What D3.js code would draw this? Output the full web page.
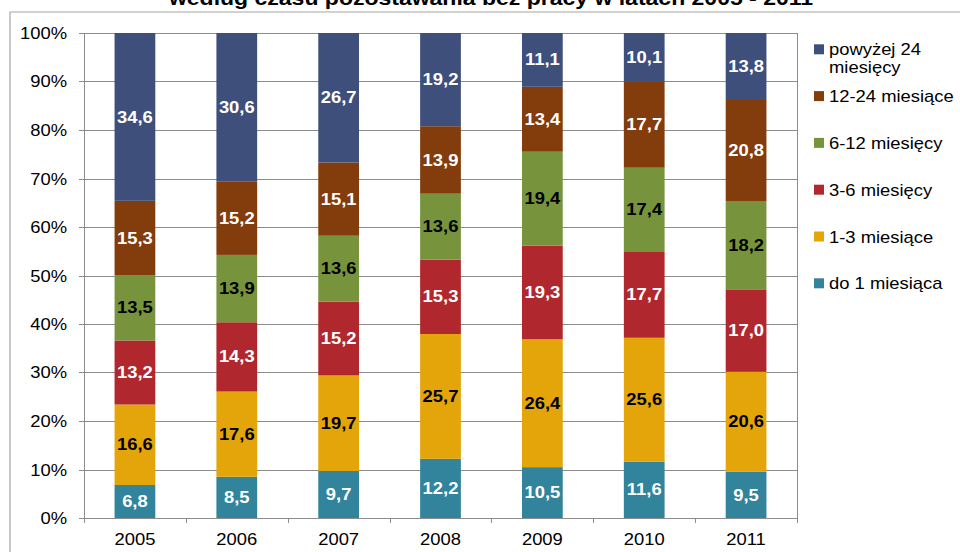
<!DOCTYPE html>
<html>
<head>
<meta charset="utf-8">
<script src="https://cdn.jsdelivr.net/npm/d3@7"></script>
<style>
  html, body { margin: 0; padding: 0; background: #fff; }
  svg { display: block; font-family: "Liberation Sans", Arial, sans-serif; }
</style>
</head>
<body>
<script>
// ---- Data ----
const title = "według czasu pozostawania bez pracy w latach 2005 - 2011";
const years = ["2005", "2006", "2007", "2008", "2009", "2010", "2011"];
const seriesNames = ["do 1 miesiąca", "1-3 miesiące", "3-6 miesięcy", "6-12 miesięcy", "12-24 miesiące", "powyżej 24 miesięcy"];
const do1 =      [6.8, 8.5, 9.7, 12.2, 10.5, 11.6, 9.5];
const m1to3 =    [16.6, 17.6, 19.7, 25.7, 26.4, 25.6, 20.6];
const m3to6 =    [13.2, 14.3, 15.2, 15.3, 19.3, 17.7, 17.0];
const m6to12 =   [13.5, 13.9, 13.6, 13.6, 19.4, 17.4, 18.2];
const m12to24 =  [15.3, 15.2, 15.1, 13.9, 13.4, 17.7, 20.8];
const over24 =   [34.6, 30.6, 26.7, 19.2, 11.1, 10.1, 13.8];
const yTicks = [0, 0.1, 0.2, 0.3, 0.4, 0.5, 0.6, 0.7, 0.8, 0.9, 1.0];

const seriesValues = [do1, m1to3, m3to6, m6to12, m12to24, over24];
const colors = ["#31849b", "#e3a50a", "#b0282d", "#77933c", "#833c0b", "#3e4f7c"];
const labelColors = ["#fff", "#000", "#fff", "#000", "#fff", "#fff"];

const rows = years.map((yr, i) => {
  const r = { year: yr };
  seriesNames.forEach((s, k) => r[s] = seriesValues[k][i]);
  return r;
});

// ---- Layout ----
const W = 960, H = 552;
const SX = 1.15; // horizontal text stretch as in reference
const plot = { left: 84, right: 797, top: 33, bottom: 518 };

const svg = d3.select("body").append("svg").attr("width", W).attr("height", H);

function stretchedText(g, x, y, str) {
  return g.append("text")
    .attr("transform", `translate(${x},${y}) scale(${SX},1)`)
    .text(str);
}

// outer frame
svg.append("path")
  .attr("d", `M10,${H + 5} L10,12 L${W + 5},12`)
  .attr("fill", "none").attr("stroke", "#a6a6a6").attr("stroke-width", 1.2);

// title (cut off at top)
stretchedText(svg, 491, 5, title)
  .attr("text-anchor", "middle")
  .attr("font-size", 20).attr("font-weight", "bold").attr("fill", "#000");

const x = d3.scaleBand().domain(years).range([plot.left, plot.right])
  .paddingInner(0.6).paddingOuter(0.3);
const xCat = d3.scaleBand().domain(years).range([plot.left, plot.right]).padding(0);
const y = d3.scaleLinear().domain([0, 1]).range([plot.bottom, plot.top]);

// gridlines
svg.append("g").selectAll("line").data(yTicks.filter(t => t > 0)).join("line")
  .attr("x1", plot.left).attr("x2", plot.right)
  .attr("y1", d => Math.round(y(d)) + 0.5).attr("y2", d => Math.round(y(d)) + 0.5)
  .attr("stroke", "#8c8c8c").attr("stroke-width", 1);

// right border of plot
svg.append("line")
  .attr("x1", plot.right + 0.5).attr("x2", plot.right + 0.5)
  .attr("y1", y(1)).attr("y2", plot.bottom)
  .attr("stroke", "#8c8c8c");

// stacked bars
const stack = d3.stack().keys(seriesNames).offset(d3.stackOffsetExpand);
const stacked = stack(rows);

const layers = svg.append("g").selectAll("g").data(stacked).join("g")
  .attr("fill", (d, i) => colors[i]);

layers.selectAll("rect").data(d => d).join("rect")
  .attr("x", d => x(d.data.year))
  .attr("width", x.bandwidth())
  .attr("y", d => y(d[1]))
  .attr("height", d => y(d[0]) - y(d[1]));

// data labels
const fmt = v => d3.format(".1f")(v).replace(".", ",");
stacked.forEach((layer, i) => {
  const g = svg.append("g")
    .attr("font-size", 16).attr("font-weight", "bold").attr("fill", labelColors[i])
    .attr("text-anchor", "middle");
  layer.forEach(d => {
    const cx = x(d.data.year) + x.bandwidth() / 2;
    const cy = (y(d[0]) + y(d[1])) / 2 + 5.6;
    stretchedText(g, cx, cy, fmt(d.data[layer.key]));
  });
});

// y axis
const axisColor = "#8c8c8c";
svg.append("line")
  .attr("x1", plot.left + 0.5).attr("x2", plot.left + 0.5)
  .attr("y1", plot.top).attr("y2", plot.bottom + 4)
  .attr("stroke", axisColor);
const yg = svg.append("g");
yTicks.forEach(t => {
  const yy = Math.round(y(t)) + 0.5;
  yg.append("line").attr("x1", plot.left - 5).attr("x2", plot.left)
    .attr("y1", yy).attr("y2", yy).attr("stroke", axisColor);
  stretchedText(yg, 67, yy + 5.5, d3.format(".0%")(t))
    .attr("text-anchor", "end").attr("font-size", 16).attr("fill", "#000");
});

// x axis
svg.append("line")
  .attr("x1", plot.left - 5).attr("x2", plot.right + 0.5)
  .attr("y1", plot.bottom + 0.5).attr("y2", plot.bottom + 0.5)
  .attr("stroke", axisColor);
const xg = svg.append("g");
const boundaries = years.map(yr => xCat(yr)).concat([plot.right]);
boundaries.forEach(bx => {
  xg.append("line").attr("x1", Math.round(bx) + 0.5).attr("x2", Math.round(bx) + 0.5)
    .attr("y1", plot.bottom).attr("y2", plot.bottom + 5).attr("stroke", axisColor);
});
years.forEach(yr => {
  stretchedText(xg, x(yr) + x.bandwidth() / 2, 545, yr)
    .attr("text-anchor", "middle").attr("font-size", 16).attr("fill", "#000");
});

// legend
const legendOrder = seriesNames.map((s, i) => i).reverse();
const lg = svg.append("g");
legendOrder.forEach((k, j) => {
  const top = 44.3 + j * 46.8;
  lg.append("rect").attr("x", 814).attr("y", top).attr("width", 10).attr("height", 10)
    .attr("fill", colors[k]);
  const name = seriesNames[k];
  if (name === "powyżej 24 miesięcy") {
    stretchedText(lg, 829, top + 11, "powyżej 24").attr("font-size", 16).attr("fill", "#000");
    stretchedText(lg, 829, top + 29, "miesięcy").attr("font-size", 16).attr("fill", "#000");
  } else {
    stretchedText(lg, 829, top + 11, name).attr("font-size", 16).attr("fill", "#000");
  }
});
</script>
</body>
</html>
